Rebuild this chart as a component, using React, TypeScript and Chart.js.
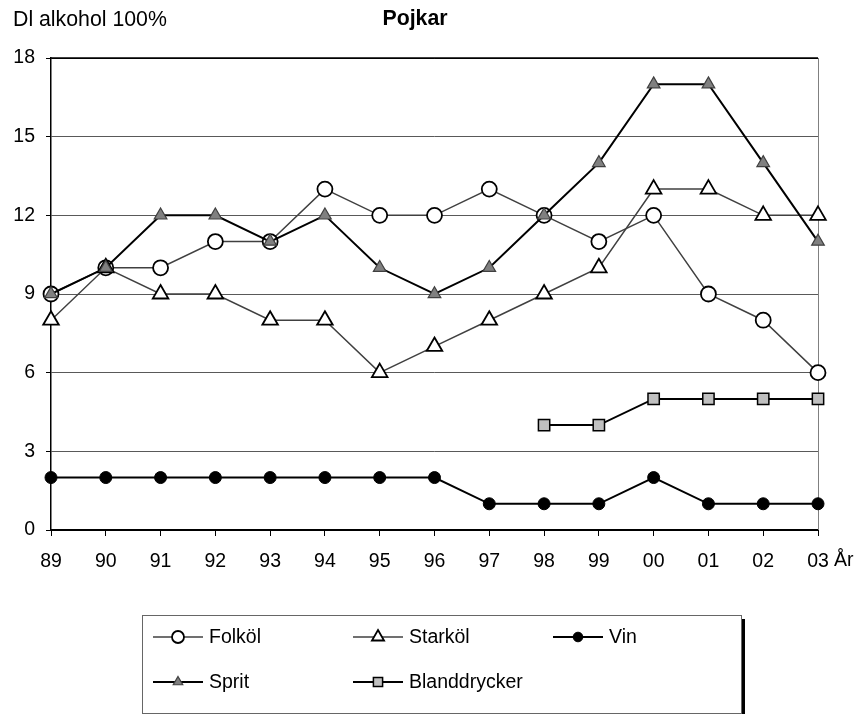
import React, { useEffect, useRef } from 'react';
import { Chart, registerables } from 'chart.js';
import { drawPoint } from 'chart.js/helpers';

Chart.register(...registerables);

const categories = ['89', '90', '91', '92', '93', '94', '95', '96', '97', '98', '99', '00', '01', '02', '03'];
const folkol = [9, 10, 10, 11, 11, 13, 12, 12, 13, 12, 11, 12, 9, 8, 6];
const starkol = [8, 10, 9, 9, 8, 8, 6, 7, 8, 9, 10, 13, 13, 12, 12];
const vin = [2, 2, 2, 2, 2, 2, 2, 2, 1, 1, 1, 2, 1, 1, 1];
const sprit = [9, 10, 12, 12, 11, 12, 10, 9, 10, 12, 14, 17, 17, 14, 11];
const blanddrycker = [null, null, null, null, null, null, null, null, null, 4, 4, 5, 5, 5, 5];
const yTicks = [0, 3, 6, 9, 12, 15, 18];

const FONT = "'Liberation Sans', Arial, Helvetica, sans-serif";
const FS = 19.5;
const FS_TOP = 21.3;

const legendPlugin = {
  id: 'customDecor',
  beforeDatasetsDraw(chart: any) {
    const { ctx, chartArea } = chart;
    ctx.save();
    ctx.strokeStyle = '#000';
    ctx.lineWidth = 1.5;
    ctx.beginPath();
    ctx.moveTo(chartArea.left, chartArea.top);
    ctx.lineTo(chartArea.right, chartArea.top);
    ctx.stroke();
    ctx.strokeStyle = '#808080';
    ctx.lineWidth = 1;
    ctx.beginPath();
    ctx.moveTo(chartArea.right + 0.5, chartArea.top);
    ctx.lineTo(chartArea.right + 0.5, chartArea.bottom);
    ctx.stroke();
    ctx.restore();
  },
  afterDraw(chart: any) {
    const { ctx, chartArea } = chart;
    ctx.save();
    ctx.fillStyle = '#000';
    ctx.textBaseline = 'middle';
    ctx.font = `${FS_TOP}px ${FONT}`;
    ctx.textAlign = 'left';
    ctx.fillText('Dl alkohol 100%', 13, 20);
    ctx.font = `bold ${FS_TOP}px ${FONT}`;
    ctx.textAlign = 'center';
    ctx.fillText('Pojkar', 415, 19);
    ctx.font = `${FS}px ${FONT}`;
    ctx.textAlign = 'left';
    const xs = chart.scales.x;
    ctx.fillText('År', chartArea.right + 16, xs.top + 31);

    // legend box
    const bx = 142, by = 615, bw = 599, bh = 98;
    ctx.fillStyle = '#000';
    ctx.fillRect(bx + bw, by + 4, 4, 714 - by - 4);
    ctx.fillStyle = '#fff';
    ctx.fillRect(bx, by, bw, bh);
    ctx.strokeStyle = '#666';
    ctx.lineWidth = 1;
    ctx.strokeRect(bx + 0.5, by + 0.5, bw, bh);

    const datasets = chart.data.datasets;
    datasets.forEach((ds: any, i: number) => {
      const col = i % 3;
      const row = Math.floor(i / 3);
      const x = 153 + col * 200;
      const y = 637 + row * 45;
      ctx.strokeStyle = ds.legendLine || ds.borderColor;
      ctx.lineWidth = ds.borderWidth;
      ctx.beginPath();
      ctx.moveTo(x, y);
      ctx.lineTo(x + 50, y);
      ctx.stroke();
      ctx.fillStyle = ds.pointBackgroundColor;
      ctx.strokeStyle = ds.pointBorderColor;
      ctx.lineWidth = ds.pointBorderWidth;
      drawPoint(ctx, { pointStyle: ds.pointStyle, radius: ds.legendRadius, borderWidth: ds.pointBorderWidth, rotation: 0 } as any, x + 25, y);
      ctx.fillStyle = '#000';
      ctx.font = `${FS}px ${FONT}`;
      ctx.textAlign = 'left';
      ctx.textBaseline = 'middle';
      ctx.fillText(ds.label, x + 56, y + 1);
    });
    ctx.restore();
  },
};

export default function App() {
  const ref = useRef<HTMLCanvasElement | null>(null);
  useEffect(() => {
    if (!ref.current) return;
    const chart = new Chart(ref.current, {
      type: 'line',
      data: {
        labels: categories,
        datasets: [
          {
            label: 'Folköl', data: folkol, borderColor: '#404040', borderWidth: 1.5,
            pointStyle: 'circle', pointRadius: 7.5, pointBackgroundColor: '#fff', pointBorderColor: '#000', pointBorderWidth: 1.8,
            legendRadius: 6, order: 5, clip: false,
          } as any,
          {
            label: 'Starköl', data: starkol, borderColor: '#404040', borderWidth: 1.5,
            pointStyle: 'triangle', pointRadius: 9, pointBackgroundColor: '#fff', pointBorderColor: '#000', pointBorderWidth: 1.8,
            legendRadius: 7, order: 4, clip: false,
          } as any,
          {
            label: 'Vin', data: vin, borderColor: '#000', borderWidth: 2,
            pointStyle: 'circle', pointRadius: 6, pointBackgroundColor: '#000', pointBorderColor: '#000', pointBorderWidth: 1,
            legendRadius: 4.8, order: 3, clip: false,
          } as any,
          {
            label: 'Sprit', data: sprit, borderColor: '#000', borderWidth: 2,
            pointStyle: 'triangle', pointRadius: 7.3, pointBackgroundColor: '#808080', pointBorderColor: '#404040', pointBorderWidth: 1.2,
            legendRadius: 5.5, order: 2, clip: false,
          } as any,
          {
            label: 'Blanddrycker', data: blanddrycker, borderColor: '#000', borderWidth: 2,
            pointStyle: 'rect', pointRadius: 8, pointBackgroundColor: '#c0c0c0', pointBorderColor: '#000', pointBorderWidth: 1.5,
            legendRadius: 6.5, order: 1, clip: false, spanGaps: false,
          } as any,
        ],
      },
      options: {
        animation: false,
        responsive: false,
        maintainAspectRatio: false,
        devicePixelRatio: 1,
        layout: { padding: { left: 0, top: 58, right: 44, bottom: 144 } },
        plugins: { legend: { display: false }, title: { display: false }, tooltip: { enabled: false } },
        elements: { line: { tension: 0 } },
        scales: {
          x: {
            type: 'category',
            offset: false,
            afterFit: (s: any) => { s.height = 40; },
            grid: { display: true, drawOnChartArea: false, drawTicks: true, tickLength: 6, tickColor: '#000', tickWidth: 1 } as any,
            border: { display: true, color: '#000', width: 2 },
            ticks: { color: '#000', font: { family: FONT, size: FS }, padding: 14, maxRotation: 0, autoSkip: false },
          },
          y: {
            min: 0, max: 18,
            afterFit: (s: any) => { s.width = 51; },
            afterBuildTicks: (s: any) => { s.ticks = yTicks.map((v) => ({ value: v })); },
            grid: {
              color: (c: any) => (c.tick && c.tick.value === 18 ? '#000' : '#595959'),
              lineWidth: 1, drawTicks: true, tickLength: 5, tickColor: '#000',
            } as any,
            border: { display: true, color: '#000', width: 1.5 },
            ticks: { color: '#000', font: { family: FONT, size: FS }, padding: 11, stepSize: 3 },
          },
        },
      },
      plugins: [legendPlugin],
    });
    return () => chart.destroy();
  }, []);
  return (
    <div style={{ position: 'fixed', left: 0, top: 0, width: 862, height: 714, background: '#fff' }}>
      <canvas ref={ref} width={862} height={714} style={{ display: 'block', width: 862, height: 714 }} />
    </div>
  );
}
